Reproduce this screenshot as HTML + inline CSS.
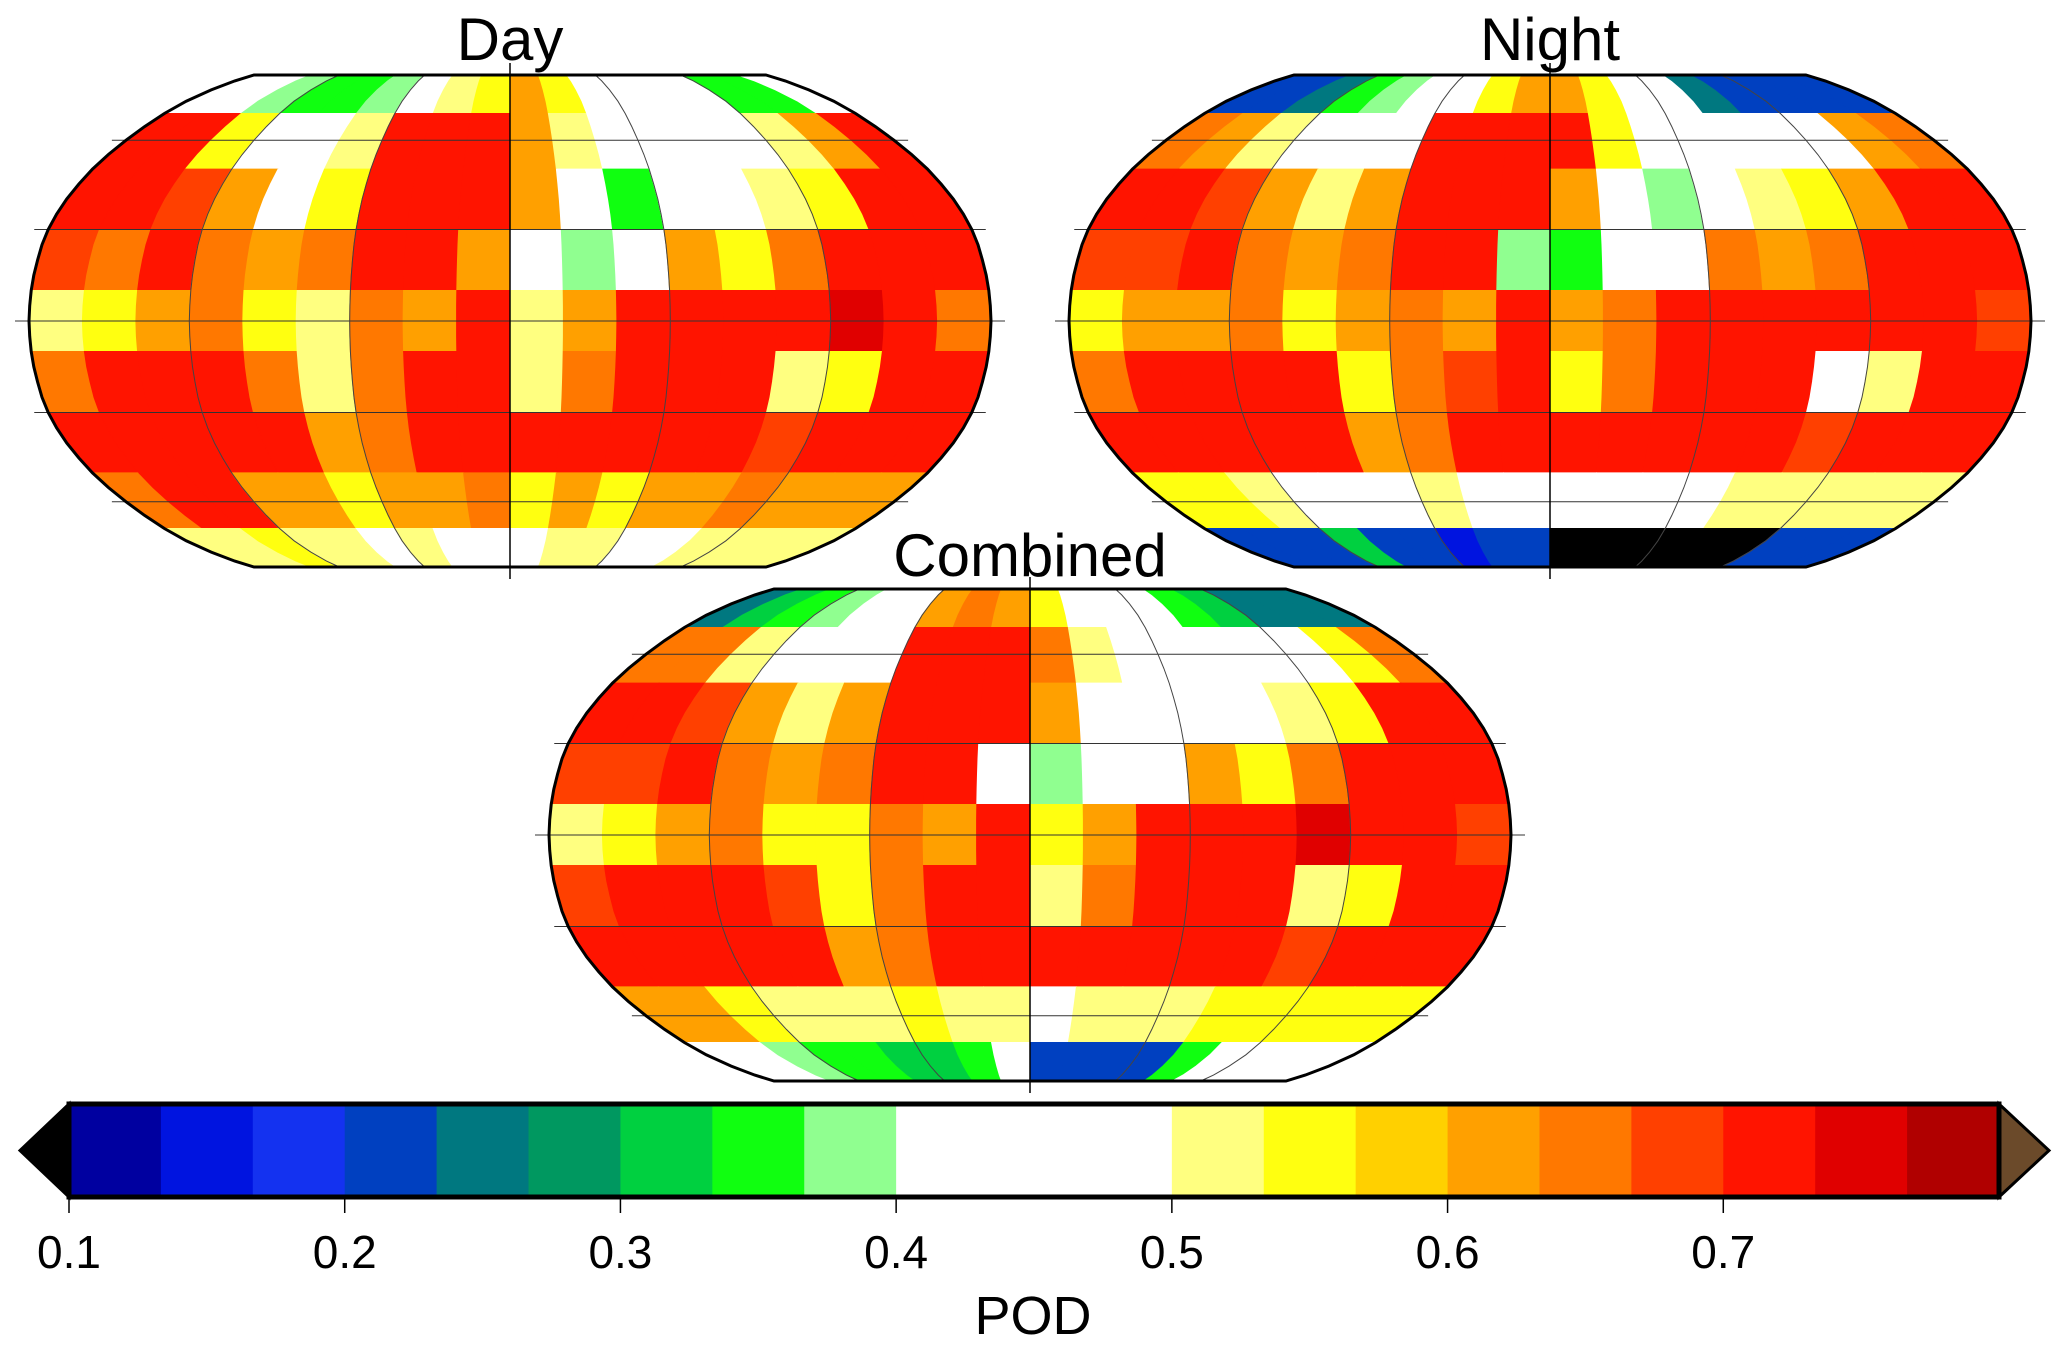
<!DOCTYPE html>
<html><head><meta charset="utf-8"><title>POD maps</title>
<style>
html,body{margin:0;padding:0;background:#fff;}
svg{display:block;font-family:"Liberation Sans",sans-serif;}
</style></head>
<body>
<svg id="fig" width="2067" height="1352" viewBox="0 0 2067 1352" xmlns="http://www.w3.org/2000/svg">
<g id="maps"></g>
<text x="510" y="60" font-size="60" text-anchor="middle">Day</text>
<text x="1550" y="60" font-size="60" text-anchor="middle">Night</text>
<text x="1030" y="576" font-size="60" text-anchor="middle">Combined</text>
<g id="cbar"></g>
<text x="1033" y="1334" font-size="54" text-anchor="middle">POD</text>
</svg>
<script>
// Latitude bands (top edge -> bottom edge), 20 deg each; longitude columns 20 deg each
const latEdges = [90,70,50,30,10,-10,-30,-50,-70,-90];
const lonEdges = [-180,-160,-140,-120,-100,-80,-60,-40,-20,0,20,40,60,80,100,120,140,160,180];
const dayValues = [
[0.45,0.45,0.38,0.35,0.35,0.38,0.45,0.5,0.55,0.6,0.55,0.45,0.4,0.45,0.4,0.35,0.35,0.4],
[0.72,0.7,0.55,0.45,0.45,0.5,0.7,0.72,0.7,0.6,0.5,0.45,0.45,0.45,0.45,0.5,0.6,0.7],
[0.72,0.7,0.68,0.6,0.45,0.55,0.72,0.72,0.7,0.6,0.4,0.35,0.45,0.45,0.5,0.55,0.7,0.72],
[0.68,0.65,0.7,0.65,0.6,0.65,0.72,0.7,0.6,0.45,0.38,0.45,0.6,0.55,0.65,0.7,0.72,0.7],
[0.5,0.55,0.6,0.65,0.55,0.5,0.65,0.6,0.7,0.5,0.6,0.72,0.72,0.72,0.72,0.75,0.72,0.65],
[0.65,0.7,0.72,0.7,0.65,0.5,0.65,0.7,0.7,0.5,0.65,0.72,0.72,0.7,0.5,0.55,0.7,0.7],
[0.72,0.72,0.7,0.7,0.7,0.6,0.65,0.7,0.72,0.72,0.72,0.7,0.72,0.7,0.68,0.72,0.7,0.72],
[0.65,0.7,0.72,0.6,0.6,0.55,0.6,0.6,0.65,0.55,0.6,0.55,0.6,0.6,0.65,0.6,0.6,0.62],
[0.5,0.5,0.55,0.5,0.5,0.45,0.5,0.45,0.45,0.45,0.5,0.5,0.45,0.45,0.5,0.5,0.5,0.5]
];
const nightValues = [
[0.2,0.22,0.25,0.35,0.38,0.4,0.45,0.55,0.6,0.6,0.55,0.45,0.4,0.25,0.2,0.2,0.2,0.2],
[0.65,0.6,0.5,0.42,0.45,0.45,0.7,0.72,0.72,0.7,0.55,0.45,0.45,0.45,0.45,0.45,0.6,0.65],
[0.7,0.7,0.68,0.6,0.5,0.6,0.72,0.72,0.7,0.6,0.4,0.38,0.45,0.5,0.55,0.6,0.7,0.72],
[0.68,0.68,0.7,0.65,0.6,0.65,0.72,0.7,0.38,0.35,0.4,0.45,0.65,0.6,0.65,0.7,0.72,0.7],
[0.55,0.6,0.6,0.65,0.55,0.6,0.65,0.6,0.7,0.6,0.65,0.72,0.72,0.72,0.72,0.72,0.7,0.68],
[0.65,0.7,0.72,0.7,0.7,0.55,0.65,0.68,0.7,0.55,0.65,0.72,0.72,0.7,0.45,0.5,0.7,0.7],
[0.7,0.72,0.7,0.7,0.7,0.6,0.65,0.7,0.72,0.72,0.7,0.7,0.72,0.7,0.68,0.72,0.7,0.7],
[0.55,0.55,0.5,0.45,0.45,0.45,0.5,0.45,0.45,0.4,0.45,0.45,0.45,0.5,0.5,0.5,0.5,0.5],
[0.2,0.2,0.22,0.3,0.2,0.2,0.15,0.2,0.2,0.05,0.05,0.05,0.05,0.05,0.05,0.2,0.2,0.2]
];
const combinedValues = [
[0.25,0.3,0.35,0.38,0.4,0.45,0.6,0.65,0.6,0.55,0.45,0.45,0.4,0.35,0.3,0.25,0.25,0.25],
[0.65,0.65,0.5,0.45,0.45,0.45,0.7,0.72,0.72,0.65,0.5,0.45,0.45,0.45,0.45,0.45,0.55,0.65],
[0.7,0.7,0.68,0.6,0.5,0.6,0.72,0.72,0.7,0.6,0.42,0.4,0.45,0.45,0.5,0.55,0.7,0.72],
[0.68,0.68,0.7,0.65,0.6,0.65,0.72,0.7,0.45,0.38,0.4,0.45,0.6,0.55,0.65,0.7,0.72,0.7],
[0.5,0.55,0.6,0.65,0.55,0.55,0.65,0.6,0.7,0.55,0.6,0.72,0.72,0.72,0.75,0.72,0.7,0.68],
[0.68,0.7,0.72,0.7,0.68,0.55,0.65,0.7,0.7,0.5,0.65,0.72,0.72,0.7,0.5,0.55,0.7,0.7],
[0.72,0.72,0.7,0.7,0.7,0.6,0.65,0.7,0.72,0.72,0.72,0.7,0.72,0.7,0.68,0.72,0.7,0.72],
[0.6,0.6,0.55,0.5,0.5,0.5,0.55,0.5,0.5,0.45,0.5,0.5,0.5,0.55,0.55,0.55,0.55,0.55],
[0.4,0.4,0.38,0.35,0.35,0.3,0.3,0.35,0.45,0.2,0.2,0.2,0.2,0.35,0.4,0.45,0.45,0.45]
];
const levelColors = ["#0000a0","#0014e0","#1432f0","#0040c0","#007880","#009860","#00d040","#10ff10","#90ff90","#ffffff","#ffffff","#ffffff","#ffff80","#ffff10","#ffd000","#ffa000","#ff7800","#ff4000","#ff1400","#e00000","#b00000"];
const tickValues = [0.1,0.2,0.3,0.4,0.5,0.6,0.7];
const tickLabels = ["0.1","0.2","0.3","0.4","0.5","0.6","0.7"];

const NS = "http://www.w3.org/2000/svg";
const robLat = [0,5,10,15,20,25,30,35,40,45,50,55,60,65,70,75,80,85,90];
const robX = [1,.9986,.9954,.99,.9822,.973,.96,.9427,.9216,.8962,.8679,.835,.7986,.7597,.7186,.6732,.6213,.5722,.5322];
const robY = [0,.062,.124,.186,.248,.31,.372,.434,.4958,.5571,.6176,.6769,.7346,.7903,.8435,.8936,.9394,.9761,1];
function rob(lat){const a=Math.abs(lat);let i=Math.min(17,Math.floor(a/5));const t=(a-robLat[i])/5;
 return [robX[i]+(robX[i+1]-robX[i])*t,(robY[i]+(robY[i+1]-robY[i])*t)*Math.sign(lat)];}
const W=481,H=246;
function proj(cx,cy,lon,lat){const r=rob(lat);return [cx+W*r[0]*lon/180, cy-H*r[1]];}
function colorFor(v){if(v<0.1)return "#000000";if(v>=0.8)return "#6b4a2a";
 return levelColors[Math.min(20,Math.floor((v-0.1)*30+1e-9))];}
function el(tag,attrs,parent){const e=document.createElementNS(NS,tag);for(const k in attrs)e.setAttribute(k,attrs[k]);parent.appendChild(e);return e;}
function polyPts(cx,cy,lon0,lon1,lat0,lat1){const pts=[];
 for(let la=lat0;;la+=(lat1>lat0?5:-5)){pts.push(proj(cx,cy,lon0,la));if(la===lat1)break;}
 for(let la=lat1;;la+=(lat0>lat1?5:-5)){pts.push(proj(cx,cy,lon1,la));if(la===lat0)break;}
 return pts.map(p=>p[0].toFixed(1)+","+p[1].toFixed(1)).join(" ");}

const mapsG=document.getElementById("maps");
function drawMap(name,values,cx,cy){
 const g=el("g",{},mapsG);
 
 
 for(let r=0;r<values.length;r++){for(let c=0;c<values[r].length;c++){
  const p=el("polygon",{points:polyPts(cx,cy,lonEdges[c],lonEdges[c+1],latEdges[r],latEdges[r+1]),fill:colorFor(values[r][c]),stroke:colorFor(values[r][c]),"stroke-width":"1"},g);
  
  
 }}
 for(const la of [-60,-30,0,30,60]){const a=proj(cx,cy,-180,la),b=proj(cx,cy,180,la);
  const l=el("line",{x1:a[0]-14,y1:a[1],x2:b[0]+14,y2:b[1],stroke:"#333","stroke-width":"1"},g);
  
  }
 for(const lo of [-120,-60,0,60,120]){const pts=[];for(let la=-90;la<=90;la+=5){const p=proj(cx,cy,lo,la);pts.push(p[0].toFixed(1)+","+p[1].toFixed(1));}
  const m=el("polyline",{points:pts.join(" "),fill:"none",stroke:"#444","stroke-width":"1"},g);
  
  }
 const t1=el("line",{x1:cx,y1:cy-H-12,x2:cx,y2:cy+H+12,stroke:"#000","stroke-width":"1.5"},g);
 
 
 const o=[];for(let la=90;la>=-90;la-=5){const p=proj(cx,cy,180,la);o.push(p[0].toFixed(1)+","+p[1].toFixed(1));}
 for(let la=-90;la<=90;la+=5){const p=proj(cx,cy,-180,la);o.push(p[0].toFixed(1)+","+p[1].toFixed(1));}
 const ol=el("polygon",{points:o.join(" "),fill:"none",stroke:"#000","stroke-width":"3"},g);
 
 
}
drawMap("day",dayValues,510,321);
drawMap("night",nightValues,1550,321);
drawMap("combined",combinedValues,1030,835);

const cb=document.getElementById("cbar");
const x0=69,x1=1999,y0=1104,y1=1197;
const xs=v=>x0+(v-0.1)/0.7*(x1-x0);
for(let i=0;i<levelColors.length;i++){
 const a=xs(0.1+i/30),b=xs(0.1+(i+1)/30);
 const r=el("rect",{x:a,y:y0,width:b-a+0.5,height:y1-y0,fill:levelColors[i]},cb);
 
 
}
const lt=el("polygon",{points:`${x0},${y0} ${x0},${y1} 20,${(y0+y1)/2}`,fill:"#000",stroke:"#000","stroke-width":"3"},cb);


const rt=el("polygon",{points:`${x1},${y0} ${x1},${y1} 2049,${(y0+y1)/2}`,fill:"#6b4a2a",stroke:"#000","stroke-width":"3"},cb);


const bo=el("rect",{x:x0,y:y0,width:x1-x0,height:y1-y0,fill:"none",stroke:"#000","stroke-width":"5"},cb);


for(let i=0;i<tickValues.length;i++){
 const x=xs(tickValues[i]);
 const tk=el("line",{x1:x,y1:y1,x2:x,y2:y1+16,stroke:"#000","stroke-width":"1.5"},cb);
 
 
 const tx=el("text",{x:x,y:1268,"font-size":"46","text-anchor":"middle"},cb);
 tx.textContent=tickLabels[i];
 
 
}
</script>
</body></html>
